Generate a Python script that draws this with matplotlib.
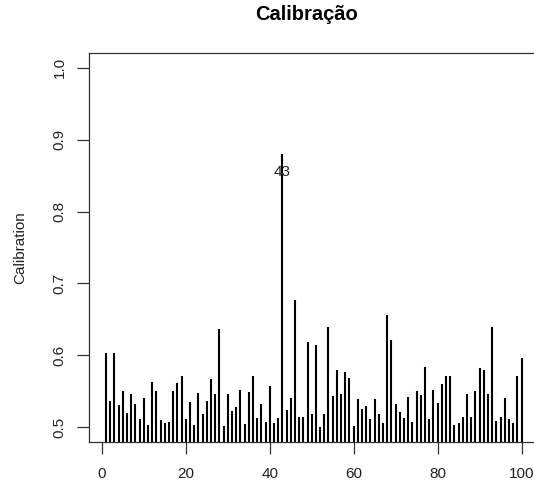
import matplotlib
matplotlib.use("Agg")
import matplotlib.pyplot as plt
import numpy as np

plt.rcParams['font.family'] = ['Liberation Sans', 'DejaVu Sans']

# Calibration value for each observation index
index = list(range(1, 101))
calibration = [
    0.603, 0.537, 0.603, 0.531, 0.551, 0.520, 0.546, 0.533, 0.512, 0.541,
    0.503, 0.563, 0.550, 0.510, 0.506, 0.507, 0.551, 0.561, 0.571, 0.512,
    0.535, 0.503, 0.548, 0.519, 0.537, 0.567, 0.546, 0.637, 0.502, 0.546,
    0.522, 0.528, 0.552, 0.505, 0.549, 0.571, 0.513, 0.532, 0.508, 0.558,
    0.506, 0.513, 0.880, 0.524, 0.541, 0.677, 0.515, 0.515, 0.619, 0.519,
    0.614, 0.500, 0.518, 0.640, 0.543, 0.580, 0.546, 0.577, 0.569, 0.502,
    0.539, 0.526, 0.529, 0.511, 0.539, 0.518, 0.506, 0.656, 0.622, 0.533,
    0.521, 0.513, 0.542, 0.507, 0.551, 0.545, 0.584, 0.512, 0.552, 0.534,
    0.560, 0.571, 0.571, 0.503, 0.506, 0.515, 0.546, 0.515, 0.550, 0.582,
    0.580, 0.546, 0.640, 0.509, 0.515, 0.541, 0.512, 0.506, 0.571, 0.597,
]
highlight = 43

title = "Calibração"
ylabel = "Calibration"
xticks = [0, 20, 40, 60, 80, 100]
yticks = [0.5, 0.6, 0.7, 0.8, 0.9, 1.0]

W, H = 534, 484
fig = plt.figure(figsize=(W / 100, H / 100), dpi=100)

# plot region in pixels (right edge runs slightly past the image)
left_px, right_px, top_px, bottom_px = 89.3, 538.3, 53.3, 441.7
ax = fig.add_axes([left_px / W, 1 - bottom_px / H,
                   (right_px - left_px) / W, (bottom_px - top_px) / H])

ax.vlines(index, 0, calibration, colors="black", linewidth=1.5)

hi_val = calibration[highlight - 1]
ax.text(highlight, hi_val - 0.025, str(highlight), ha="center", va="center",
        fontsize=11, color="#222222")

ax.set_xlim(-2.96, 103.96)
ax.set_ylim(0.48, 1.02)
ax.set_xticks(xticks)
ax.set_xticklabels([str(t) for t in xticks])
ax.set_yticks(yticks)
ax.set_yticklabels([f"{t:.1f}" for t in yticks], rotation=90, va="center")

for sp in ax.spines.values():
    sp.set_linewidth(0.9)
    sp.set_color("#333333")

ax.tick_params(axis="both", direction="out", length=8.5, width=0.9,
               color="#333333", labelsize=11, labelcolor="#222222")
ax.tick_params(axis="x", pad=10)
ax.tick_params(axis="y", pad=8)

mid_y = 1 - (top_px + bottom_px) / 2 / H
fig.text(307 / W, 1 - 14.5 / H, title, ha="center", va="center",
         fontsize=14.5, fontweight="bold")
fig.text(20 / W, mid_y, ylabel, ha="center", va="center", rotation=90,
         fontsize=11, color="#222222")

fig.savefig("out.png", dpi=100)
